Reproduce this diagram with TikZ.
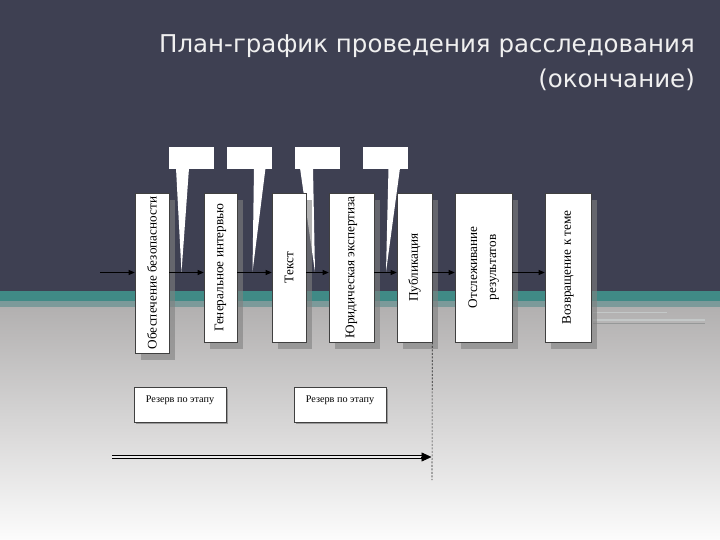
\documentclass[tikz,border=0pt]{standalone}
\usepackage{fontspec}
\setmainfont{Liberation Serif}
\newfontfamily\titlefont{DejaVu Sans}
\usetikzlibrary{arrows.meta,shadows}
\definecolor{bgdark}{RGB}{62,64,82}
\definecolor{bandteal}{RGB}{64,138,134}
\definecolor{bandgray}{RGB}{124,154,154}
\definecolor{grtop}{RGB}{178,176,176}
\definecolor{grmid}{RGB}{207,207,207}
\definecolor{grbot}{RGB}{252,252,252}
\definecolor{titlecol}{RGB}{240,240,240}
\definecolor{stripelight}{RGB}{196,200,200}
\definecolor{stripedark}{RGB}{150,152,152}
\begin{document}
\begin{tikzpicture}[x=1pt,y=-1pt,
  stagebox/.style={draw=black!75, line width=0.6pt, fill=white, inner sep=0pt,
    drop shadow={shadow xshift=6pt,shadow yshift=-7pt,fill=gray,opacity=0.6},
    font=\fontsize{13.2}{15}\selectfont},
  callbox/.style={fill=white, inner sep=0pt, minimum width=45pt, minimum height=22pt},
  resbox/.style={draw=black!75, line width=0.6pt, fill=white, inner sep=0pt,
    minimum width=92pt, minimum height=35pt,
    drop shadow={shadow xshift=2pt,shadow yshift=-2pt,fill=gray,opacity=0.7}},
  restext/.style={font=\fontsize{10.2}{11}\selectfont, inner sep=0pt},
  flow/.style={draw=black, line width=0.7pt, -{Triangle[length=6pt,width=5pt]}},
  titletext/.style={text=titlecol, inner sep=0pt, font=\titlefont\fontsize{24.5}{28}\selectfont}
]
\useasboundingbox (0,0) rectangle (720,540);
% background
\fill[bgdark] (0,0) rectangle (720,291);
\fill[bandteal] (0,291) rectangle (720,301);
\fill[bandgray] (0,301) rectangle (720,307);
\shade[top color=grtop, middle color=grmid, bottom color=grbot] (0,307) rectangle (720,540);
\fill[stripelight] (593,311.5) rectangle (667,313);
\fill[stripelight] (593,319) rectangle (705,320.5);
\fill[stripedark] (593,322.5) rectangle (705,323.5);

% title
\node[titletext, anchor=base east] (title1) at (695,53) {План-график проведения расследования};
\node[titletext, anchor=base east] (title2) at (695,88) {(окончание)};

% callouts
\node[callbox] (c1) at (191.5,158) {};
\node[callbox] (c2) at (249,158) {};
\node[callbox] (c3) at (317,158) {};
\node[callbox] (c4) at (385.5,158) {};
\coordinate (k1) at (181.5,272);
\coordinate (k2) at (252.5,272);
\coordinate (k3) at (315,272);
\coordinate (k4) at (386,272);
\fill[white] (176,168) -- (189,168) -- (k1) -- cycle;
\fill[white] (254,168) -- (265.5,168) -- (k2) -- cycle;
\fill[white] (300,168) -- (313,168) -- (k3) -- cycle;
\fill[white] (388.5,168) -- (400,168) -- (k4) -- cycle;

% stage boxes
\node[stagebox, minimum width=34pt, minimum height=160pt] (b1) at (152,273) {\rotatebox{90}{Обеспечение безопасности}};
\node[stagebox, minimum width=33pt, minimum height=149pt] (b2) at (220.5,267.5) {\rotatebox{90}{Генеральное интервью}};
\node[stagebox, minimum width=34pt, minimum height=149pt] (b3) at (289,267.5) {\rotatebox{90}{Текст}};
\node[stagebox, minimum width=45pt, minimum height=149pt] (b4) at (351.5,267.5) {\rotatebox{90}{Юридическая экспертиза}};
\node[stagebox, minimum width=35pt, minimum height=149pt] (b5) at (414.5,267.5) {\rotatebox{90}{Публикация}};
\node[stagebox, minimum width=57pt, minimum height=149pt] (b6) at (483.5,267.5) {\rotatebox{90}{\begin{tabular}{@{}c@{}}Отслеживание\\[4pt]результатов\end{tabular}}};
\node[stagebox, minimum width=46pt, minimum height=149pt] (b7) at (568,267.5) {\rotatebox{90}{Возвращение к теме}};

% flow arrows
\coordinate (ay) at (0,272.5);
\coordinate (start) at (100,272.5);
\draw[flow] (start) -- (b1.west |- ay);
\draw[flow] (b1.east |- ay) -- (b2.west |- ay);
\draw[flow] (b2.east |- ay) -- (b3.west |- ay);
\draw[flow] (b3.east |- ay) -- (b4.west |- ay);
\draw[flow] (b4.east |- ay) -- (b5.west |- ay);
\draw[flow] (b5.east |- ay) -- (b6.west |- ay);
\draw[flow] (b6.east |- ay) -- (b7.west |- ay);

% reserve boxes
\node[resbox] (r1) at (180,404.5) {};
\node[resbox] (r2) at (340,404.5) {};
\node[restext, anchor=base] (r1t) at ([yshift=-16pt]r1.north) {Резерв по этапу};
\node[restext, anchor=base] (r2t) at ([yshift=-16pt]r2.north) {Резерв по этапу};

% deadline dashed line
\coordinate (dend) at (432,480);
\draw[black!85, line width=0.6pt, dash pattern=on 2pt off 1.5pt] (b5.south east) -- (dend);

% timeline double arrow
\coordinate (da) at (112,457);
\coordinate (dm) at (423,457);
\coordinate (db) at (431.5,457);
\draw[black, line width=0.9pt, double=gray!15, double distance=1.4pt] (da) -- (dm);
\draw[black, line width=0.6pt, -{Triangle[length=10pt,width=9pt]}] ([xshift=-2pt]dm) -- (db);
\end{tikzpicture}
\end{document}
